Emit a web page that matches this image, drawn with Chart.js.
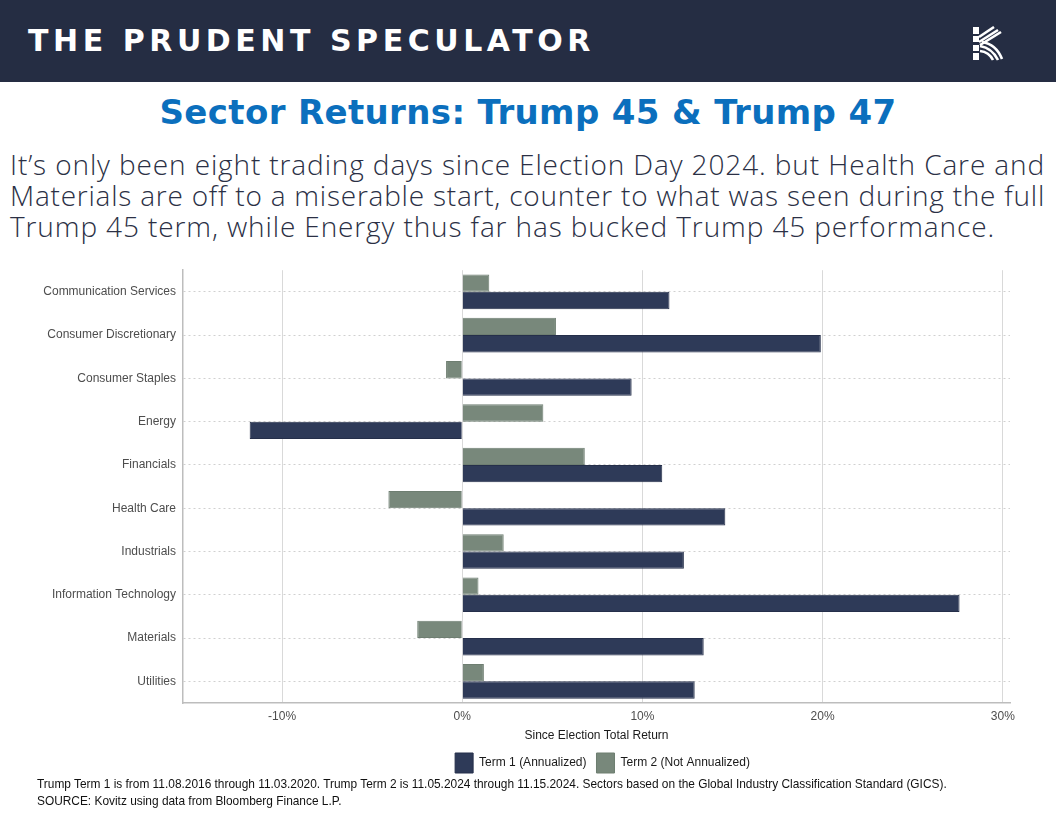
<!DOCTYPE html>
<html>
<head>
<meta charset="utf-8">
<script src="https://cdn.jsdelivr.net/npm/chart.js@4.4.1/dist/chart.umd.min.js"></script>
<style>
  html, body { margin: 0; padding: 0; background: #fff; }
  body { width: 1056px; height: 816px; position: relative; overflow: hidden; }
  .header { position: absolute; left: 0; top: 0; width: 1056px; height: 82px; background: #252d43; }
  .brand { position: absolute; left: 28px; top: 23px; font-family: "DejaVu Sans", sans-serif; font-weight: 700;
           font-size: 30px; line-height: 36px; color: #fff; letter-spacing: 3px; white-space: nowrap; }
  .logo { position: absolute; left: 972px; top: 26px; }
  .title { position: absolute; left: 0; width: 1056px; top: 92px; text-align: center; font-family: "DejaVu Sans", sans-serif;
           font-weight: 700; font-size: 34px; line-height: 40px; color: #0b6fbd; white-space: nowrap; }
  .title span, .para span { display: inline-block; }
  .para { position: absolute; left: 10px; top: 149px; font-family: "Open Sans", sans-serif; font-weight: 300;
          font-size: 28px; line-height: 31px; color: #2b3045; white-space: nowrap; }
  .chartbox { position: absolute; left: 0; top: 256px; width: 1056px; height: 527px; }
  .note { position: absolute; left: 37px; top: 776px; font-family: "Liberation Sans", Arial, sans-serif;
          font-size: 11.9px; line-height: 17px; color: #111; white-space: nowrap; }
</style>
</head>
<body>
<div class="header">
  <div class="brand" id="brand">THE PRUDENT SPECULATOR</div>
  <svg class="logo" width="32" height="36" viewBox="0 0 32 36">
    <g fill="#fff">
      <rect x="1" y="1" width="6" height="7"/>
      <rect x="1" y="10" width="6" height="6"/>
      <rect x="1" y="19" width="6" height="6"/>
      <rect x="1" y="27" width="6" height="7"/>
    </g>
    <g stroke="#fff" stroke-width="2.6" fill="none">
      <path d="M7 11 L22 1"/>
      <path d="M7 16 L26 4"/>
      <path d="M8 19 L29 6"/>
      <path d="M8 20 Q20 22 26 34"/>
      <path d="M8 25 Q17 26 21 34"/>
      <path d="M10 16 Q24 18 30 33"/>
    </g>
  </svg>
</div>
<div class="title"><span id="title">Sector Returns: Trump 45 &amp; Trump 47</span></div>
<div class="para" id="para">
  <span id="l1">It’s only been eight trading days since Election Day 2024. but Health Care and</span><br>
  <span id="l2">Materials are off to a miserable start, counter to what was seen during the full</span><br>
  <span id="l3">Trump 45 term, while Energy thus far has bucked Trump 45 performance.</span>
</div>
<div class="chartbox"><canvas id="sectorChart"></canvas></div>
<div class="note">Trump Term 1 is from 11.08.2016 through 11.03.2020. Trump Term 2 is 11.05.2024 through 11.15.2024. Sectors based on the Global Industry Classification Standard (GICS).<br>SOURCE: Kovitz using data from Bloomberg Finance L.P.</div>

<script>
const sectors = [
    'Communication Services', 'Consumer Discretionary', 'Consumer Staples', 'Energy', 'Financials',
    'Health Care', 'Industrials', 'Information Technology', 'Materials', 'Utilities'
];
const term1 = [11.5, 19.9, 9.4, -11.8, 11.1, 14.6, 12.3, 27.6, 13.4, 12.9];
const term2 = [1.5, 5.2, -0.9, 4.5, 6.8, -4.1, 2.3, 0.9, -2.5, 1.2];
const xMin = -15.5;
const xMax = 30.4;
const xStep = 10;

// stretch a line of text to a target width with letter spacing
function fitSpacing(el, target) {
    const w = el.getBoundingClientRect().width;
    const n = el.textContent.length;
    el.style.letterSpacing = (parseFloat(getComputedStyle(el).letterSpacing) || 0) + (target - w) / n + 'px';
}
fitSpacing(document.getElementById('brand'), 567);
fitSpacing(document.getElementById('title'), 737);
fitSpacing(document.getElementById('l1'), 1035);
fitSpacing(document.getElementById('l2'), 1035);
fitSpacing(document.getElementById('l3'), 985);

Chart.defaults.font.family = '"Liberation Sans", Arial, sans-serif';
Chart.defaults.font.size = 12;

// centre the legend under the plot rather than the whole canvas
const legendUnderPlot = {
    id: 'legendUnderPlot',
    afterLayout(chart) {
        chart.legend.left = chart.chartArea.left + 12;
        chart.legend.right = chart.chartArea.right;
    }
};

new Chart(document.getElementById('sectorChart'), {
    type: 'bar',
    data: {
        labels: sectors,
        datasets: [{
            label: 'Term 2 (Not Annualized)',
            data: term2,
            backgroundColor: '#78887b',
            borderColor: '#6e7e71',
            borderWidth: 1,
            categoryPercentage: 0.8,
            barPercentage: 1.0
        }, {
            label: 'Term 1 (Annualized)',
            data: term1,
            backgroundColor: '#2e3a58',
            borderColor: '#252f4a',
            borderWidth: 1,
            categoryPercentage: 0.8,
            barPercentage: 1.0
        }]
    },
    options: {
        indexAxis: 'y',
        responsive: true,
        maintainAspectRatio: false,
        animation: false,
        layout: { padding: { top: 12, right: 46, left: 0, bottom: 0 } },
        scales: {
            x: {
                min: xMin,
                max: xMax,
                afterFit: function(scale) { scale.height = 40; },
                ticks: {
                    stepSize: xStep,
                    includeBounds: false,
                    color: '#4d4d4d',
                    padding: 6,
                    callback: function(value) { return value + '%'; }
                },
                grid: { color: '#d9d9d9', lineWidth: 1, drawTicks: false },
                border: { color: '#bdbdbd', width: 1.5 },
                title: {
                    display: true,
                    text: 'Since Election Total Return',
                    color: '#1a1a1a',
                    padding: { top: 2, bottom: 0 }
                }
            },
            y: {
                afterFit: function(scale) { scale.width = 183; },
                ticks: { color: '#4d4d4d', padding: 7 },
                grid: { offset: false, color: '#d0d0d0', lineWidth: 1, drawTicks: false },
                border: { color: '#bdbdbd', width: 1.5, dash: [2, 3] }
            }
        },
        plugins: {
            legend: {
                position: 'bottom',
                reverse: true,
                labels: { boxWidth: 18, boxHeight: 20, color: '#1a1a1a', padding: 10 }
            },
            tooltip: { enabled: false }
        }
    },
    plugins: [legendUnderPlot]
});
</script>
</body>
</html>
